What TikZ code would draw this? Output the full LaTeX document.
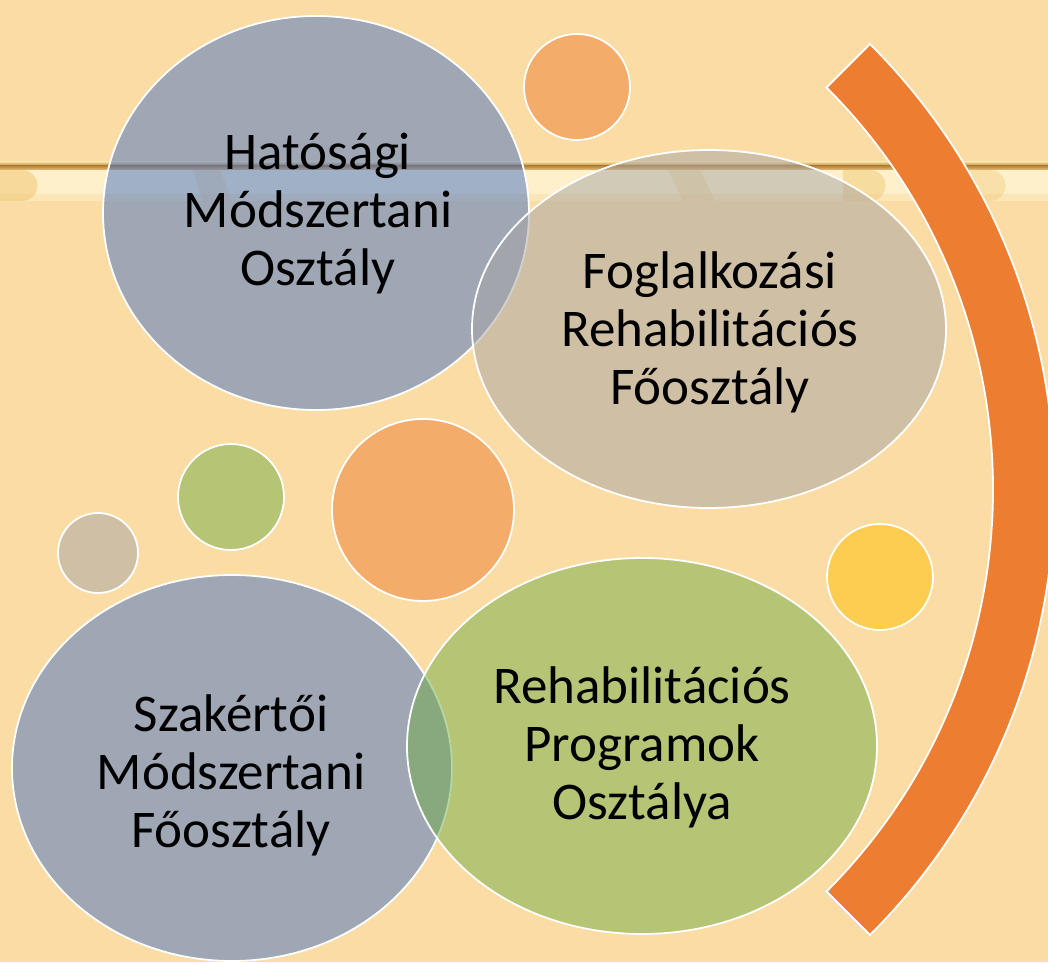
\documentclass[tikz,border=0pt]{standalone}
\usepackage{fontspec}
\setmainfont{Carlito}
\usetikzlibrary{shapes.geometric}
\definecolor{bg}{RGB}{251,220,165}
\definecolor{cream}{RGB}{254,240,202}
\definecolor{bandA}{RGB}{243,214,150}
\definecolor{bandB}{RGB}{184,134,62}
\definecolor{bandC}{RGB}{232,190,118}
\definecolor{blob}{RGB}{240,196,110}
\definecolor{offblue}{HTML}{4472C4}
\definecolor{offgray}{HTML}{A5A5A5}
\definecolor{offgreen}{HTML}{70AD47}
\definecolor{offorange}{HTML}{ED7D31}
\definecolor{offgold}{HTML}{FFC000}
\begin{document}
\begin{tikzpicture}[x=1pt,y=1pt,
  bubble/.style={ellipse, draw=white, line width=1.8pt, fill opacity=0.5, inner sep=0pt, outer sep=0pt},
  dot/.style={circle, draw=white, line width=1.8pt, fill opacity=0.5, inner sep=0pt, outer sep=0pt},
  lbl/.style={align=center, font=\fontsize{53}{58}\selectfont, text=black, inner sep=0pt}]
\useasboundingbox (0,0) rectangle (1048,962);
\clip (0,0) rectangle (1048,962);
% background and band
\fill[bg] (0,0) rectangle (1048,962);
\shade[top color=bandA, bottom color=bandB] (0,796) rectangle (1048,800);
\shade[top color=bandB, bottom color=bandC] (0,792) rectangle (1048,796);
\fill[cream] (0,761) rectangle (1048,792);
\fill[bg, opacity=0.5] (0,761) rectangle (1048,768);
\fill[blob, opacity=0.5] (0,761) rectangle (22,792);
\fill[blob, opacity=0.5] (22,761) -- (22,792) arc[start angle=90,end angle=-90,radius=15.5] -- cycle;
\fill[blob, opacity=0.3] (193,792) -- (220,792) -- (232,761) -- (203,761) -- cycle;
\fill[blob, opacity=0.3] (668,792) -- (700,792) -- (715,761) -- (683,761) -- cycle;
\fill[blob, opacity=0.45] (843,761) rectangle (870,792);
\fill[blob, opacity=0.45] (870,761) -- (870,792) arc[start angle=90,end angle=-90,radius=15.5] -- cycle;
\fill[blob, opacity=0.35] (963,761) rectangle (990,792);
\fill[blob, opacity=0.35] (990,761) -- (990,792) arc[start angle=90,end angle=-90,radius=15.5] -- cycle;
% small circles
\node[dot, fill=offorange, minimum size=106pt] (o1) at (577,875) {};
\node[dot, fill=offorange, minimum size=182pt] (o2) at (423,452) {};
\node[dot, fill=offgreen, minimum size=106pt] (g1) at (231,465) {};
\node[dot, fill=offgray, minimum size=80pt] (s1) at (98,409) {};
\node[dot, fill=offgold, minimum size=106pt] (y1) at (880,385) {};
% big ellipses
\node[bubble, fill=offblue, minimum width=426pt, minimum height=394pt] (e1) at (316,749) {};
\node[bubble, fill=offgray, minimum width=474pt, minimum height=358pt] (e2) at (709,633) {};
\node[bubble, fill=offblue, minimum width=440pt, minimum height=386pt] (e3) at (232,194) {};
\node[bubble, fill=offgreen, minimum width=470pt, minimum height=376pt] (e4) at (642,216) {};
% arc
\coordinate (ac) at (424.5,472.5);
\fill[offorange, draw=white, line width=1.8pt, line join=miter]
  ([shift={(45:630)}]ac) arc[start angle=45, end angle=-45, radius=630]
  -- ([shift={(-45:568.5)}]ac) arc[start angle=-45, end angle=45, radius=568.5] -- cycle;
% labels
\node[lbl] (t1) at (318,748) {Hatósági\\Módszertani\\Osztály};
\node[lbl] (t2) at (710,630) {Foglalkozási\\Rehabilitációs\\Főosztály};
\node[lbl] (t3) at (231,187) {Szakértői\\Módszertani\\Főosztály};
\node[lbl] (t4) at (642,215) {Rehabilitációs\\Programok\\Osztálya};
\end{tikzpicture}
\end{document}
